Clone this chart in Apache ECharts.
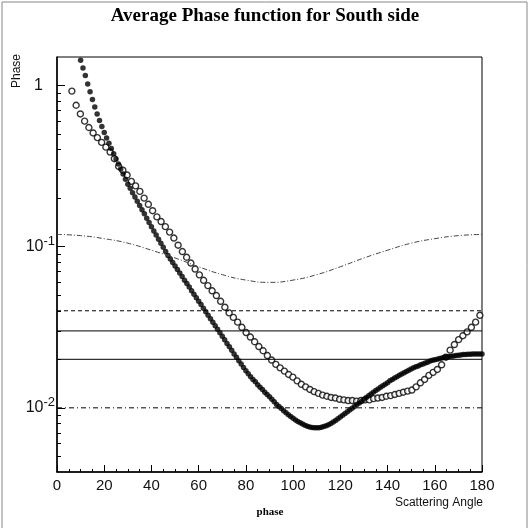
<!DOCTYPE html>
<html>
<head>
<meta charset="utf-8">
<script src="https://cdn.jsdelivr.net/npm/echarts@6/dist/echarts.min.js"></script>
<style>
html, body { margin: 0; padding: 0; background: #fff; }
#chart { width: 530px; height: 528px; }
</style>
</head>
<body>
<div id="chart"></div>
<script>
// filled circles, one every degree from 10 to 180
var filledStart = 10
var filledPhase = [
    1.43, 1.28, 1.15, 1.02, 0.912, 0.817, 0.735, 0.665, 0.605, 0.555,
    0.511, 0.472, 0.438, 0.406, 0.377, 0.350, 0.325, 0.303, 0.282, 0.262,
    0.244, 0.230, 0.216, 0.203, 0.191, 0.180, 0.169, 0.160, 0.150, 0.141,
    0.133, 0.125, 0.118, 0.111, 0.105, 0.0991, 0.0933, 0.0881, 0.0838, 0.0796,
    0.0759, 0.0721, 0.0685, 0.0652, 0.0619, 0.0590, 0.0561, 0.0533, 0.0507, 0.0482,
    0.0459, 0.0437, 0.0415, 0.0394, 0.0375, 0.0357, 0.0340, 0.0323, 0.0307, 0.0292,
    0.0278, 0.0264, 0.0251, 0.0239, 0.0228, 0.0216, 0.0206, 0.0196, 0.0187, 0.0178,
    0.0170, 0.0163, 0.0156, 0.0150, 0.0145, 0.0139, 0.0134, 0.0130, 0.0125, 0.0121,
    0.0117, 0.0113, 0.0109, 0.0105, 0.0102, 0.00989, 0.00959, 0.00931, 0.00906, 0.00883,
    0.00861, 0.00841, 0.00824, 0.00807, 0.00793, 0.00780, 0.00769, 0.00760, 0.00755, 0.00752,
    0.00752, 0.00753, 0.00759, 0.00766, 0.00774, 0.00785, 0.00800, 0.00817, 0.00836, 0.00855,
    0.00877, 0.00899, 0.00923, 0.00946, 0.00971, 0.00995, 0.0102, 0.0105, 0.0107, 0.0110,
    0.0113, 0.0116, 0.0119, 0.0122, 0.0125, 0.0128, 0.0131, 0.0134, 0.0137, 0.0140,
    0.0143, 0.0147, 0.0150, 0.0153, 0.0156, 0.0159, 0.0162, 0.0165, 0.0168, 0.0171,
    0.0174, 0.0177, 0.0180, 0.0182, 0.0185, 0.0187, 0.0190, 0.0192, 0.0195, 0.0197,
    0.0199, 0.0200, 0.0202, 0.0204, 0.0206, 0.0207, 0.0208, 0.0209, 0.0210, 0.0211,
    0.0212, 0.0213, 0.0214, 0.0214, 0.0215, 0.0215, 0.0216, 0.0216, 0.0216, 0.0216,
    0.0216
]

// open circles, bin centres every 1.8 degrees from 6.3 to 179.1
var openStart = 6.3
var openStep = 1.8
var openPhase = [
    0.922, 0.753, 0.665, 0.600, 0.548, 0.507, 0.474, 0.443, 0.414, 0.386,
    0.351, 0.315, 0.298, 0.278, 0.254, 0.238, 0.220, 0.200, 0.183, 0.167,
    0.153, 0.143, 0.133, 0.123, 0.113, 0.102, 0.0932, 0.0859, 0.0791, 0.0726,
    0.0668, 0.0618, 0.0573, 0.0532, 0.0497, 0.0458, 0.0421, 0.0388, 0.0364, 0.0340,
    0.0316, 0.0293, 0.0275, 0.0257, 0.0240, 0.0226, 0.0211, 0.0198, 0.0186, 0.0177,
    0.0169, 0.0161, 0.0155, 0.0147, 0.0140, 0.0135, 0.0130, 0.0126, 0.0123, 0.0120,
    0.0118, 0.0116, 0.0115, 0.0113, 0.0112, 0.0111, 0.0111, 0.0110, 0.0111, 0.0112,
    0.0112, 0.0114, 0.0115, 0.0116, 0.0118, 0.0119, 0.0121, 0.0123, 0.0125, 0.0127,
    0.0129, 0.0135, 0.0143, 0.0150, 0.0159, 0.0166, 0.0173, 0.0185, 0.0206, 0.0228,
    0.0247, 0.0265, 0.0280, 0.0296, 0.0316, 0.0340, 0.0375
]

// dash-dotted curve
var curveAngles = [0, 10, 20, 30, 40, 50, 60, 70, 80, 90, 100, 110, 120, 130, 140, 150, 160, 170, 180]
var curvePhase = [0.119, 0.117, 0.112, 0.105, 0.095, 0.085, 0.075, 0.067, 0.062, 0.060,
    0.062, 0.067, 0.075, 0.085, 0.095, 0.105, 0.112, 0.117, 0.119]

// horizontal levels
var levelPhase = [0.04, 0.03, 0.02, 0.01]
var levelStyles = [[4, 3], 'solid', 'solid', [5, 3, 1, 3]]

var yLabelValues = [0.01, 0.1, 1]
var yMinorValues = [0.005, 0.006, 0.007, 0.008, 0.009,
    0.02, 0.03, 0.04, 0.05, 0.06, 0.07, 0.08, 0.09,
    0.2, 0.3, 0.4, 0.5, 0.6, 0.7, 0.8, 0.9]

var chart = echarts.init(document.getElementById('chart'))

var filledData = filledPhase.map(function (v, i) { return [filledStart + i, v] })
var openData = openPhase.map(function (v, i) {
    return [Math.round((openStart + openStep * i) * 10) / 10, v]
})
var curveData = curveAngles.map(function (a, i) { return [a, curvePhase[i]] })

var series = [
    {
        type: 'line', data: curveData, smooth: true, showSymbol: false, silent: true,
        lineStyle: { color: '#444', width: 1, type: [5, 2, 1, 2] }
    }
]
levelPhase.forEach(function (v, i) {
    series.push({
        type: 'line', data: [[0, v], [180, v]], showSymbol: false, silent: true,
        lineStyle: { color: '#000', width: 1, type: levelStyles[i] }
    })
})
series.push({
    type: 'scatter', data: openData, symbol: 'circle', symbolSize: 6, clip: true,
    itemStyle: { color: '#fff', borderColor: '#000', borderWidth: 1.4 }
})
series.push({
    type: 'scatter', data: filledData, symbol: 'circle', symbolSize: 5.5, clip: true,
    itemStyle: { color: '#000' }
})

var yBase = {
    type: 'log', logBase: 10, min: 0.004, max: 1.5,
    splitLine: { show: false }
}

let option = {
    animation: false,
    backgroundColor: '#fff',
    grid: { left: 57, right: 48, top: 57, bottom: 56, show: true, borderColor: '#000', borderWidth: 1 },
    xAxis: {
        type: 'value', min: 0, max: 180, interval: 20,
        axisLine: { lineStyle: { color: '#000', width: 1.5 } },
        axisTick: { inside: true, length: 7, lineStyle: { color: '#000' } },
        minorTick: { show: true, splitNumber: 4, length: 3, lineStyle: { color: '#000' } },
        axisLabel: { fontFamily: 'Liberation Sans', fontSize: 15, color: '#111', margin: 6 },
        splitLine: { show: false }
    },
    yAxis: [
        Object.assign({}, yBase, {
            axisLine: { show: true, lineStyle: { color: '#000', width: 1.5 } },
            axisTick: { inside: true, length: 4, customValues: yMinorValues, lineStyle: { color: '#000' } },
            axisLabel: {
                customValues: yLabelValues,
                margin: 2,
                formatter: function (v) {
                    if (v > 0.5) return '{b|1}{p|}'
                    return '{b|10}{s|-' + Math.round(-Math.log10(v)) + '}'
                },
                rich: {
                    b: { fontFamily: 'Liberation Sans', fontSize: 16, color: '#111', lineHeight: 24 },
                    s: { fontFamily: 'Liberation Sans', fontSize: 13, color: '#111', verticalAlign: 'top', lineHeight: 24 },
                    p: { width: 12, lineHeight: 24 }
                }
            }
        }),
        Object.assign({}, yBase, {
            position: 'left',
            axisLine: { show: false },
            axisTick: { inside: true, length: 8, customValues: yLabelValues, lineStyle: { color: '#000' } },
            axisLabel: { show: false }
        })
    ],
    series: series,
    graphic: [
        { type: 'rect', silent: true, shape: { x: 2, y: 2, width: 525, height: 540 },
          style: { fill: null, stroke: '#888', lineWidth: 1 } },
        { type: 'text', left: 'center', top: 7,
          style: { text: 'Average Phase function for South side', font: 'bold 19px "Liberation Serif"', fill: '#000' } },
        { type: 'text', x: 17, y: 71, rotation: Math.PI / 2,
          style: { text: 'Phase', font: '12px "Liberation Sans"', fill: '#111', align: 'center', verticalAlign: 'middle' } },
        { type: 'text', x: 483, y: 503,
          style: { text: 'Scattering Angle', font: '12px "Liberation Sans"', fill: '#111', align: 'right', verticalAlign: 'middle' } },
        { type: 'text', x: 270, y: 512,
          style: { text: 'phase', font: 'bold 11px "Liberation Serif"', fill: '#000', align: 'center', verticalAlign: 'middle' } }
    ]
}
chart.setOption(option)
</script>
</body>
</html>
